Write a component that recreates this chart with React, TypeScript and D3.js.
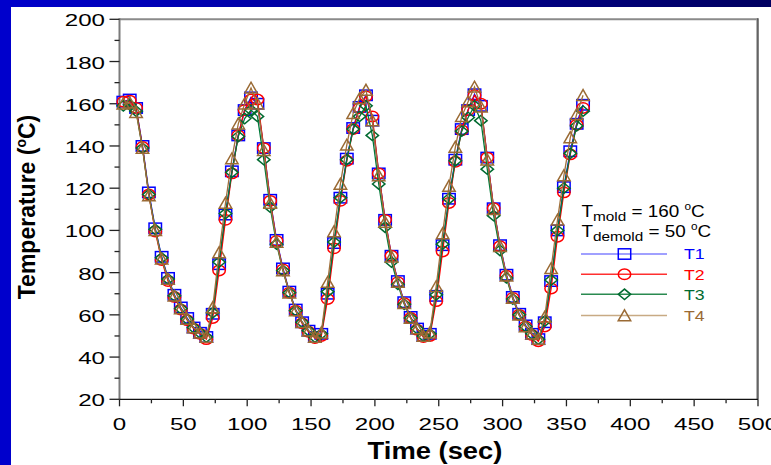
import React from "react";
import * as d3 from "d3";

const times = [3,8,13,18,23,28,33,38,43,48,53,58,63,68,73,78,83,88,93,98,103,108,113,118,123,128,133,138,143,148,153,158,163,168,173,178,183,188,193,198,203,208,213,218,223,228,233,238,243,248,253,258,263,268,273,278,283,288,293,298,303,308,313,318,323,328,333,338,343,348,353,358,363];

const t1 = [161,162,158,140,118,101,87.5,77.5,69.5,63.5,
  58.5,54,51.5,49.5,60.5,84,107.5,128,145,157,
  163,160,139,114.5,95.5,82,71,62.5,56.5,52.5,
  49.5,51,70,94,115.5,134,148.5,158.5,164,152,
  127,105,88,76,66,59,53.5,50,51,69,
  93,115,133.5,148,157,164.5,159,134.5,110.5,93,
  79,68.5,60.5,55,51,48.5,56.5,76,100,120.5,
  137.5,150.5,159.5];

const t2 = [161,161.5,158,139.5,117,99.5,86,76,68.5,62.5,
  57.5,53.5,51,48.5,58.5,81,105,127,145,157,
  162,162,139,114,95,81.5,70.5,62,56,52,
  49,50,67.5,91.5,114,133,148,158,163.5,154,
  127,105,88,75.5,65.5,58.5,53,49.5,50,66.5,
  90,113,132.5,147.5,157,164,160,134.5,110.5,92.5,
  78.5,68,60,54.5,50.5,47.5,54.5,72.5,97,118,
  136,150,158];

const t3 = [159,159.5,156.5,139,117,100.5,87,77,69,63,
  58,54,51.5,49.5,61,85,108,127.5,144.5,153,
  157,154,133.5,111,93.5,81,70.5,62,56.5,52.5,
  49.5,51,71,94.5,115.5,133.5,148,154,159,145,
  122,101.5,85,74.5,65,58.5,53.5,50,51,69.5,
  93.5,115,133,147,153.5,159,152,129,107,90.5,
  77.5,67.5,60,54.5,51,48.5,57,76.5,100,120,
  136.5,149.5,156.5];

const t4 = [160,160.5,156,139,116.5,100,86.5,77,69,63,
  58,54,51.5,49.5,63.5,89.5,113,134,150.5,160,
  167.5,160,138,113,94.5,81,70.5,62,56.5,52.5,
  49.5,51.5,75.5,99.5,122,140.5,155.5,162.5,166.5,152,
  126,104,87.5,75.5,65.5,58.5,53.5,50,51.5,73.5,
  98.5,121,139.5,154,161,168,158.5,133.5,110,92.5,
  78.5,68,60,54.5,51,48.5,59,82,105,126,
  144,155,164];

const seriesNames = ["T1", "T2", "T3", "T4"];
const seriesValues = [t1, t2, t3, t4];
const xTicks = [0, 50, 100, 150, 200, 250, 300, 350, 400, 450, 500];
const xMinorTicks = [25, 75, 125, 175, 225, 275, 325, 375, 425, 475];
const yTicks = [20, 40, 60, 80, 100, 120, 140, 160, 180, 200];
const yMinorTicks = [30, 50, 70, 90, 110, 130, 150, 170, 190];

const lineColors = ["#0000ff", "#ff0000", "#007a3a", "#a0703a"];
const markColors = ["#0000ff", "#ff0000", "#006a30", "#9a6a34"];
const legendLineColors = ["#8080ff", "#ff3030", "#2a8a50", "#c8aa84"];
const shapes = ["square", "circle", "diamond", "triangle"];

const SX = 1.18;

function Marker({ shape, x, y, color }: { shape: string; x: number; y: number; color: string }) {
  const w = 6.2 * SX * 0.85;
  const h = 5.2;
  const common = { fill: "none", stroke: color, strokeWidth: 1.5 };
  if (shape === "square") return <rect x={x - w} y={y - h} width={2 * w} height={2 * h} {...common} />;
  if (shape === "circle") return <ellipse cx={x} cy={y} rx={w} ry={h} {...common} />;
  if (shape === "diamond")
    return <path d={`M${x - w},${y}L${x},${y - h}L${x + w},${y}L${x},${y + h}Z`} {...common} />;
  return <path d={`M${x - w},${y + h}L${x},${y - h - 0.5}L${x + w},${y + h}Z`} {...common} />;
}

export default function App() {
  const W = 771, H = 465;
  const x = d3.scaleLinear().domain([0, 500]).range([119.5, 758]);
  const y = d3.scaleLinear().domain([20, 200]).range([399.3, 19.3]);
  const line = d3.line<[number, number]>().x((d) => x(d[0])).y((d) => y(d[1]));

  const legendRows = [254, 274.3, 294.3, 315.5];

  return (
    <svg width={W} height={H} style={{ position: "absolute", left: 0, top: 0, display: "block" }}
      fontFamily="'Liberation Sans', Arial, sans-serif">
      <defs>
        <linearGradient id="topbar" x1="0" x2="1" y1="0" y2="0">
          <stop offset="0" stopColor="#0000cc" />
          <stop offset="0.6" stopColor="#00008a" />
          <stop offset="1" stopColor="#000060" />
        </linearGradient>
      </defs>
      <rect x={0} y={0} width={W} height={H} fill="#ffffff" />
      <rect x={0} y={0} width={W} height={7} fill="url(#topbar)" />
      <rect x={0} y={0} width={11} height={H} fill="#0000cc" />

      {/* frame */}
      <line x1={x(0)} x2={x(500)} y1={y(200)} y2={y(200)} stroke="#8a8a8a" strokeWidth={2} />
      <line x1={x(500) - 1} x2={x(500) - 1} y1={y(200) - 1} y2={y(20)} stroke="#9a9a9a" strokeWidth={1.5} />
      <line x1={x(500)} x2={x(500)} y1={y(200) - 1} y2={y(20)} stroke="#303030" strokeWidth={1.2} />
      <line x1={x(0)} x2={x(0)} y1={y(200) - 1} y2={y(20)} stroke="#7a7a7a" strokeWidth={2} />
      <line x1={x(0)} x2={x(500)} y1={y(20)} y2={y(20)} stroke="#111" strokeWidth={1.3} />

      {/* y ticks */}
      {yTicks.map((v) => (
        <g key={"yt" + v}>
          <line x1={x(0) - 10} x2={x(0)} y1={y(v)} y2={y(v)} stroke="#222" strokeWidth={1.3} />
          <text transform={`translate(${105},${y(v) + 7}) scale(1.42,1)`} textAnchor="end" fontSize={17} fill="#000">
            {v}
          </text>
        </g>
      ))}
      {yMinorTicks.map((v) => (
        <line key={"ym" + v} x1={x(0) - 5} x2={x(0)} y1={y(v)} y2={y(v)} stroke="#222" strokeWidth={1.3} />
      ))}
      {/* x ticks */}
      {xTicks.map((v) => (
        <g key={"xt" + v}>
          <line x1={x(v)} x2={x(v)} y1={y(20)} y2={y(20) + 7} stroke="#222" strokeWidth={1.3} />
          <text transform={`translate(${x(v)},${430}) scale(1.42,1)`} textAnchor="middle" fontSize={17} fill="#000">
            {v}
          </text>
        </g>
      ))}
      {xMinorTicks.map((v) => (
        <line key={"xm" + v} x1={x(v)} x2={x(v)} y1={y(20)} y2={y(20) + 4} stroke="#222" strokeWidth={1.3} />
      ))}

      {/* axis titles */}
      <text transform={`translate(435,459) scale(1.14,1)`} textAnchor="middle" fontSize={24} fontWeight="bold" fill="#000">
        Time (sec)
      </text>
      <text transform={`translate(35,207) rotate(-90)`} textAnchor="middle" fontSize={23} fontWeight="bold" fill="#000">
        Temperature (<tspan fontSize={14} dy={-9}>o</tspan><tspan dy={9}>C)</tspan>
      </text>

      {/* series */}
      {seriesValues.map((vals, si) => {
        const pts: [number, number][] = vals.map((v, i) => [times[i], v]);
        return (
          <g key={seriesNames[si]}>
            <path d={line(pts) || ""} fill="none" stroke={lineColors[si]} strokeWidth={1.3} />
            {pts.map((p, i) => (
              <Marker key={i} shape={shapes[si]} x={x(p[0])} y={y(p[1])} color={markColors[si]} />
            ))}
          </g>
        );
      })}

      {/* legend */}
      <text transform={`translate(581.5,217) scale(${SX},1)`} fontSize={16} fill="#000">
        T<tspan fontSize={13} dy={4}>mold</tspan><tspan dy={-4}> = 160 </tspan>
        <tspan fontSize={10} dy={-7}>o</tspan><tspan dy={7}>C</tspan>
      </text>
      <text transform={`translate(581.5,236.5) scale(${SX},1)`} fontSize={16} fill="#000">
        T<tspan fontSize={13} dy={4}>demold</tspan><tspan dy={-4}> = 50 </tspan>
        <tspan fontSize={10} dy={-7}>o</tspan><tspan dy={7}>C</tspan>
      </text>
      {seriesNames.map((name, si) => (
        <g key={"lg" + name}>
          <line x1={581} x2={667} y1={legendRows[si]} y2={legendRows[si]} stroke={legendLineColors[si]} strokeWidth={1.5} />
          <Marker shape={shapes[si]} x={624.5} y={legendRows[si]} color={markColors[si]} />
          <text transform={`translate(684,${legendRows[si] + 5.3}) scale(${SX},1)`} fontSize={15} fill={markColors[si]}>
            {name}
          </text>
        </g>
      ))}
    </svg>
  );
}
